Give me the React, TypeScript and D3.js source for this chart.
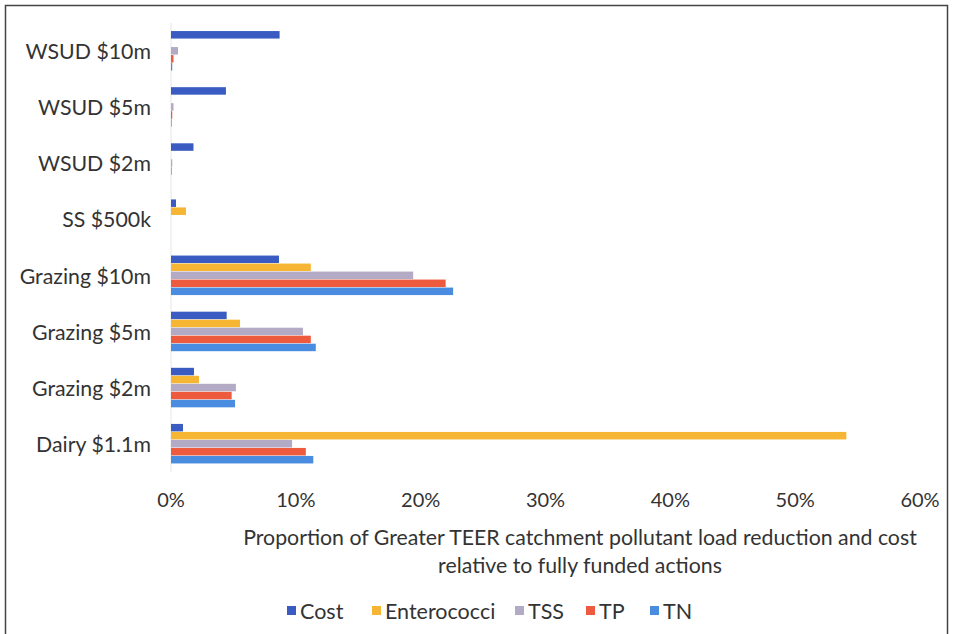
import React from "react";
import * as d3 from "d3";

const categories = ["WSUD $10m", "WSUD $5m", "WSUD $2m", "SS $500k", "Grazing $10m", "Grazing $5m", "Grazing $2m", "Dairy $1.1m"];
const seriesNames = ["Cost", "Enterococci", "TSS", "TP", "TN"];
const cost = [0.087, 0.044, 0.018, 0.004, 0.0865, 0.0446, 0.0184, 0.0096];
const enterococci = [0.0, 0.0, 0.0, 0.012, 0.112, 0.0553, 0.0224, 0.541];
const tss = [0.0056, 0.002, 0.001, 0.0, 0.194, 0.1057, 0.052, 0.097];
const tp = [0.002, 0.001, 0.0005, 0.0, 0.22, 0.112, 0.0486, 0.108];
const tn = [0.001, 0.0005, 0.0, 0.0, 0.226, 0.116, 0.0513, 0.114];
const seriesValues = [cost, enterococci, tss, tp, tn];
const colors = ["#3a5cc2", "#f6b532", "#b3abc6", "#ee5a3d", "#4a8de0"];
const xTicks = [0, 0.1, 0.2, 0.3, 0.4, 0.5, 0.6];
const titleLines = ["Proportion of Greater TEER catchment pollutant load reduction and cost", "relative to fully funded actions"];

const W = 954;
const H = 634;
const FONT = "Lato, 'Open Sans', sans-serif";

export default function App() {
  const x = d3.scaleLinear().domain([0, 0.6]).range([171, 920]);
  const y = d3.scaleBand<string>().domain(categories).range([23, 472]).paddingInner(0.287).paddingOuter(0.1435);
  const inner = d3.scaleBand<string>().domain(seriesNames).range([0, y.bandwidth()]);
  const fmt = d3.format(".0%");

  const legendItems = [
    { name: "Cost", x: 287 },
    { name: "Enterococci", x: 372 },
    { name: "TSS", x: 515 },
    { name: "TP", x: 586 },
    { name: "TN", x: 650 },
  ];

  return (
    <svg width={W} height={H} style={{ position: "absolute", left: 0, top: 0, background: "#fff" }}>
      <rect x={5.5} y={5.5} width={942} height={640} fill="#fff" stroke="#444" strokeWidth={1.5} />
      <line x1={x(0)} x2={x(0)} y1={23} y2={472} stroke="#e6e6e6" />
      {categories.map((c, i) => (
        <g key={c}>
          {seriesNames.map((s, j) => {
            const v = seriesValues[j][i];
            if (v <= 0) return null;
            return (
              <rect
                key={s}
                x={x(0)}
                y={(y(c) as number) + (inner(s) as number)}
                width={Math.max(0, x(v) - x(0))}
                height={inner.bandwidth() - 0.5}
                fill={colors[j]}
              />
            );
          })}
          <text
            x={151}
            y={(y(c) as number) + y.bandwidth() / 2}
            textAnchor="end"
            dominantBaseline="central"
            fontFamily={FONT}
            fontSize={21.3}
            fill="#333"
          >
            {c}
          </text>
        </g>
      ))}
      {xTicks.map((t) => (
        <text key={t} x={x(t)} y={499} textAnchor="middle" dominantBaseline="central" fontFamily={FONT} fontSize={20} fill="#333">
          {fmt(t)}
        </text>
      ))}
      {titleLines.map((l, i) => (
        <text key={i} x={580} y={537 + i * 28} textAnchor="middle" dominantBaseline="central" fontFamily={FONT} fontSize={21.3} fill="#333">
          {l}
        </text>
      ))}
      {legendItems.map((it, i) => (
        <g key={it.name}>
          <rect x={it.x} y={606} width={9} height={9} fill={colors[i]} />
          <text x={it.x + 13} y={611} dominantBaseline="central" fontFamily={FONT} fontSize={21.5} fill="#333">
            {seriesNames[i]}
          </text>
        </g>
      ))}
    </svg>
  );
}
